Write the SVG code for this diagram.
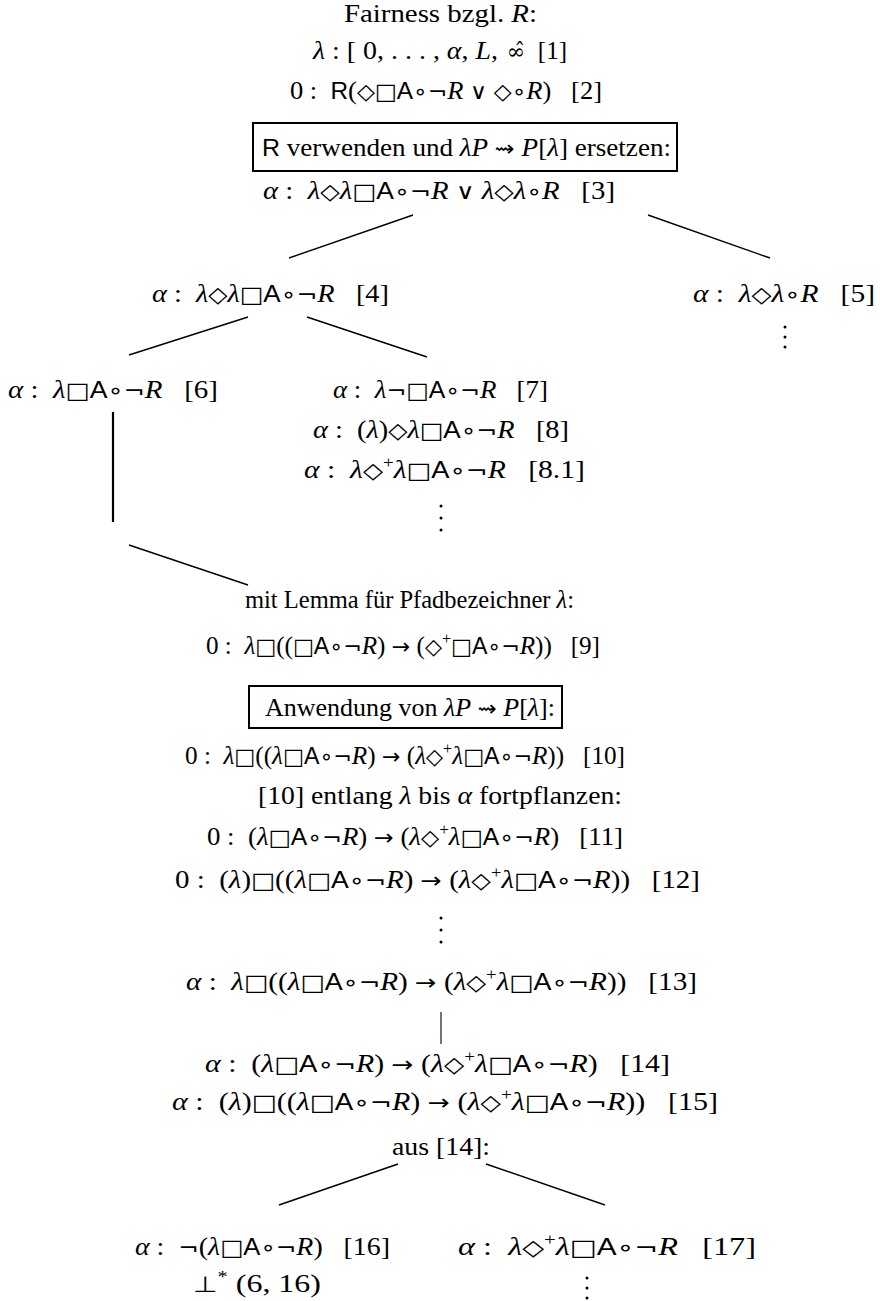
<svg xmlns="http://www.w3.org/2000/svg" width="880" height="1301" viewBox="0 0 880 1301">
<style>
text { font-family: "Liberation Serif", "DejaVu Serif", serif; font-size: 25px; fill: #000; white-space: pre; }
.m { font-style: italic; }
.s { font-family: "Liberation Sans", "DejaVu Sans", sans-serif; font-size: 23px; font-style: normal; }
.y { font-family: "DejaVu Sans", sans-serif; font-size: 22px; font-style: normal; }
.sup { font-size: 16px; font-style: normal; }
.c { text-anchor: middle; }
.e { text-anchor: end; }
.ln { stroke: #000; stroke-width: 1.4; fill: none; }
.box { stroke: #000; stroke-width: 2; fill: none; }
.dot { fill: #000; }
</style>
<rect width="880" height="1301" fill="#fff"/>

<g id="connectors">
  <line class="ln" x1="289" y1="258" x2="413" y2="215"/>
  <line class="ln" x1="648" y1="215" x2="770" y2="258"/>
  <line class="ln" x1="129" y1="355" x2="248" y2="317"/>
  <line class="ln" x1="307" y1="317" x2="427" y2="357"/>
  <line class="ln" x1="113" y1="412" x2="113" y2="522" style="stroke-width:2.2"/>
  <line class="ln" x1="129" y1="545" x2="248" y2="585"/>
  <line class="ln" x1="441" y1="1012" x2="441" y2="1044" style="stroke-width:1.1"/>
  <line class="ln" x1="279" y1="1205" x2="398" y2="1164"/>
  <line class="ln" x1="486" y1="1164" x2="605" y2="1205"/>
</g>

<g id="n-head">
  <text x="344" y="22" textLength="193" lengthAdjust="spacingAndGlyphs">Fairness bzgl. <tspan class="m">R</tspan>:</text>
</g>

<g id="n1">
  <text x="313" y="59" textLength="185" lengthAdjust="spacingAndGlyphs"><tspan class="m">λ</tspan> : [ 0, . . . , <tspan class="m">α</tspan>, <tspan class="m">L</tspan>,</text>
  <text class="c" x="516" y="59" style="font-family:'DejaVu Serif', serif; font-size:22px">∞̂</text>
  <text class="e" x="567" y="59">[1]</text>
</g>

<g id="n2">
  <text x="290" y="99" textLength="312" lengthAdjust="spacingAndGlyphs">0 :  <tspan class="s">R</tspan>(<tspan class="y">◇□</tspan><tspan class="s">A</tspan><tspan class="y">∘¬</tspan><tspan class="m">R</tspan> <tspan class="y">∨</tspan> <tspan class="y">◇∘</tspan><tspan class="m">R</tspan>)   [2]</text>
</g>

<g id="box1">
  <rect class="box" x="253" y="123" width="424" height="48"/>
  <text x="262" y="156" textLength="409" lengthAdjust="spacingAndGlyphs"><tspan class="s">R</tspan> verwenden und <tspan class="m">λP</tspan> <tspan class="y">⇝</tspan> <tspan class="m">P</tspan>[<tspan class="m">λ</tspan>] ersetzen:</text>
</g>

<g id="n3">
  <text x="263" y="199" textLength="352" lengthAdjust="spacingAndGlyphs"><tspan class="m">α</tspan> :  <tspan class="m">λ</tspan><tspan class="y">◇</tspan><tspan class="m">λ</tspan><tspan class="y">□</tspan><tspan class="s">A</tspan><tspan class="y">∘¬</tspan><tspan class="m">R</tspan> <tspan class="y">∨</tspan> <tspan class="m">λ</tspan><tspan class="y">◇</tspan><tspan class="m">λ</tspan><tspan class="y">∘</tspan><tspan class="m">R</tspan>   [3]</text>
</g>

<g id="n4">
  <text x="152" y="302" textLength="237" lengthAdjust="spacingAndGlyphs"><tspan class="m">α</tspan> :  <tspan class="m">λ</tspan><tspan class="y">◇</tspan><tspan class="m">λ</tspan><tspan class="y">□</tspan><tspan class="s">A</tspan><tspan class="y">∘¬</tspan><tspan class="m">R</tspan>   [4]</text>
</g>

<g id="n5">
  <text x="693" y="302" textLength="182" lengthAdjust="spacingAndGlyphs"><tspan class="m">α</tspan> :  <tspan class="m">λ</tspan><tspan class="y">◇</tspan><tspan class="m">λ</tspan><tspan class="y">∘</tspan><tspan class="m">R</tspan>   [5]</text>
  <circle class="dot" cx="785" cy="327" r="1.5"/>
  <circle class="dot" cx="785" cy="337" r="1.5"/>
  <circle class="dot" cx="785" cy="347" r="1.5"/>
</g>

<g id="n6">
  <text x="8" y="398" textLength="210" lengthAdjust="spacingAndGlyphs"><tspan class="m">α</tspan> :  <tspan class="m">λ</tspan><tspan class="y">□</tspan><tspan class="s">A</tspan><tspan class="y">∘¬</tspan><tspan class="m">R</tspan>   [6]</text>
</g>

<g id="n7">
  <text x="333" y="398" textLength="215" lengthAdjust="spacingAndGlyphs"><tspan class="m">α</tspan> :  <tspan class="m">λ</tspan><tspan class="y">¬□</tspan><tspan class="s">A</tspan><tspan class="y">∘¬</tspan><tspan class="m">R</tspan>   [7]</text>
</g>

<g id="n8">
  <text x="313" y="438" textLength="256" lengthAdjust="spacingAndGlyphs"><tspan class="m">α</tspan> :  (<tspan class="m">λ</tspan>)<tspan class="y">◇</tspan><tspan class="m">λ</tspan><tspan class="y">□</tspan><tspan class="s">A</tspan><tspan class="y">∘¬</tspan><tspan class="m">R</tspan>   [8]</text>
</g>

<g id="n8-1">
  <text x="304" y="478" textLength="281" lengthAdjust="spacingAndGlyphs"><tspan class="m">α</tspan> :  <tspan class="m">λ</tspan><tspan class="y">◇</tspan><tspan class="sup" dy="-10">+</tspan><tspan class="m" dy="10">λ</tspan><tspan class="y">□</tspan><tspan class="s">A</tspan><tspan class="y">∘¬</tspan><tspan class="m">R</tspan>   [8.1]</text>
  <circle class="dot" cx="441" cy="506" r="1.5"/>
  <circle class="dot" cx="441" cy="518" r="1.5"/>
  <circle class="dot" cx="441" cy="530" r="1.5"/>
</g>

<g id="lemma">
  <text x="245" y="608" textLength="329" lengthAdjust="spacingAndGlyphs">mit Lemma für Pfadbezeichner <tspan class="m">λ</tspan>:</text>
</g>

<g id="n9">
  <text x="206" y="654" textLength="394" lengthAdjust="spacingAndGlyphs">0 :  <tspan class="m">λ</tspan><tspan class="y">□</tspan>((<tspan class="y">□</tspan><tspan class="s">A</tspan><tspan class="y">∘¬</tspan><tspan class="m">R</tspan>) <tspan class="y">→</tspan> (<tspan class="y">◇</tspan><tspan class="sup" dy="-10">+</tspan><tspan class="y" dy="10">□</tspan><tspan class="s">A</tspan><tspan class="y">∘¬</tspan><tspan class="m">R</tspan>))   [9]</text>
</g>

<g id="box2">
  <rect class="box" x="249" y="686" width="313" height="42"/>
  <text x="265" y="716" textLength="290" lengthAdjust="spacingAndGlyphs">Anwendung von <tspan class="m">λP</tspan> <tspan class="y">⇝</tspan> <tspan class="m">P</tspan>[<tspan class="m">λ</tspan>]:</text>
</g>

<g id="n10">
  <text x="185" y="764" textLength="440" lengthAdjust="spacingAndGlyphs">0 :  <tspan class="m">λ</tspan><tspan class="y">□</tspan>((<tspan class="m">λ</tspan><tspan class="y">□</tspan><tspan class="s">A</tspan><tspan class="y">∘¬</tspan><tspan class="m">R</tspan>) <tspan class="y">→</tspan> (<tspan class="m">λ</tspan><tspan class="y">◇</tspan><tspan class="sup" dy="-10">+</tspan><tspan class="m" dy="10">λ</tspan><tspan class="y">□</tspan><tspan class="s">A</tspan><tspan class="y">∘¬</tspan><tspan class="m">R</tspan>))   [10]</text>
</g>

<g id="propagate">
  <text x="258" y="804" textLength="364" lengthAdjust="spacingAndGlyphs">[10] entlang <tspan class="m">λ</tspan> bis <tspan class="m">α</tspan> fortpflanzen:</text>
</g>

<g id="n11">
  <text x="207" y="845" textLength="416" lengthAdjust="spacingAndGlyphs">0 :  (<tspan class="m">λ</tspan><tspan class="y">□</tspan><tspan class="s">A</tspan><tspan class="y">∘¬</tspan><tspan class="m">R</tspan>) <tspan class="y">→</tspan> (<tspan class="m">λ</tspan><tspan class="y">◇</tspan><tspan class="sup" dy="-10">+</tspan><tspan class="m" dy="10">λ</tspan><tspan class="y">□</tspan><tspan class="s">A</tspan><tspan class="y">∘¬</tspan><tspan class="m">R</tspan>)   [11]</text>
</g>

<g id="n12">
  <text x="175" y="888" textLength="525" lengthAdjust="spacingAndGlyphs">0 :  (<tspan class="m">λ</tspan>)<tspan class="y">□</tspan>((<tspan class="m">λ</tspan><tspan class="y">□</tspan><tspan class="s">A</tspan><tspan class="y">∘¬</tspan><tspan class="m">R</tspan>) <tspan class="y">→</tspan> (<tspan class="m">λ</tspan><tspan class="y">◇</tspan><tspan class="sup" dy="-10">+</tspan><tspan class="m" dy="10">λ</tspan><tspan class="y">□</tspan><tspan class="s">A</tspan><tspan class="y">∘¬</tspan><tspan class="m">R</tspan>))   [12]</text>
  <circle class="dot" cx="441" cy="918" r="1.5"/>
  <circle class="dot" cx="441" cy="930" r="1.5"/>
  <circle class="dot" cx="441" cy="942" r="1.5"/>
</g>

<g id="n13">
  <text x="186" y="990" textLength="511" lengthAdjust="spacingAndGlyphs"><tspan class="m">α</tspan> :  <tspan class="m">λ</tspan><tspan class="y">□</tspan>((<tspan class="m">λ</tspan><tspan class="y">□</tspan><tspan class="s">A</tspan><tspan class="y">∘¬</tspan><tspan class="m">R</tspan>) <tspan class="y">→</tspan> (<tspan class="m">λ</tspan><tspan class="y">◇</tspan><tspan class="sup" dy="-10">+</tspan><tspan class="m" dy="10">λ</tspan><tspan class="y">□</tspan><tspan class="s">A</tspan><tspan class="y">∘¬</tspan><tspan class="m">R</tspan>))   [13]</text>
</g>

<g id="n14">
  <text x="205" y="1072" textLength="465" lengthAdjust="spacingAndGlyphs"><tspan class="m">α</tspan> :  (<tspan class="m">λ</tspan><tspan class="y">□</tspan><tspan class="s">A</tspan><tspan class="y">∘¬</tspan><tspan class="m">R</tspan>) <tspan class="y">→</tspan> (<tspan class="m">λ</tspan><tspan class="y">◇</tspan><tspan class="sup" dy="-10">+</tspan><tspan class="m" dy="10">λ</tspan><tspan class="y">□</tspan><tspan class="s">A</tspan><tspan class="y">∘¬</tspan><tspan class="m">R</tspan>)   [14]</text>
</g>

<g id="n15">
  <text x="172" y="1110" textLength="546" lengthAdjust="spacingAndGlyphs"><tspan class="m">α</tspan> :  (<tspan class="m">λ</tspan>)<tspan class="y">□</tspan>((<tspan class="m">λ</tspan><tspan class="y">□</tspan><tspan class="s">A</tspan><tspan class="y">∘¬</tspan><tspan class="m">R</tspan>) <tspan class="y">→</tspan> (<tspan class="m">λ</tspan><tspan class="y">◇</tspan><tspan class="sup" dy="-10">+</tspan><tspan class="m" dy="10">λ</tspan><tspan class="y">□</tspan><tspan class="s">A</tspan><tspan class="y">∘¬</tspan><tspan class="m">R</tspan>))   [15]</text>
</g>

<g id="aus14">
  <text x="392" y="1155" textLength="98" lengthAdjust="spacingAndGlyphs">aus [14]:</text>
</g>

<g id="n16">
  <text x="135" y="1255" textLength="255" lengthAdjust="spacingAndGlyphs"><tspan class="m">α</tspan> :  <tspan class="y">¬</tspan>(<tspan class="m">λ</tspan><tspan class="y">□</tspan><tspan class="s">A</tspan><tspan class="y">∘¬</tspan><tspan class="m">R</tspan>)   [16]</text>
  <text x="193" y="1292" textLength="128" lengthAdjust="spacingAndGlyphs"><tspan class="y">⊥</tspan><tspan class="sup" dy="-10">*</tspan><tspan dy="10"> (6, 16)</tspan></text>
</g>

<g id="n17">
  <text x="458" y="1255" textLength="298" lengthAdjust="spacingAndGlyphs"><tspan class="m">α</tspan> :  <tspan class="m">λ</tspan><tspan class="y">◇</tspan><tspan class="sup" dy="-10">+</tspan><tspan class="m" dy="10">λ</tspan><tspan class="y">□</tspan><tspan class="s">A</tspan><tspan class="y">∘¬</tspan><tspan class="m">R</tspan>   [17]</text>
  <circle class="dot" cx="587" cy="1278" r="1.5"/>
  <circle class="dot" cx="587" cy="1288" r="1.5"/>
  <circle class="dot" cx="587" cy="1298" r="1.5"/>
</g>
</svg>
